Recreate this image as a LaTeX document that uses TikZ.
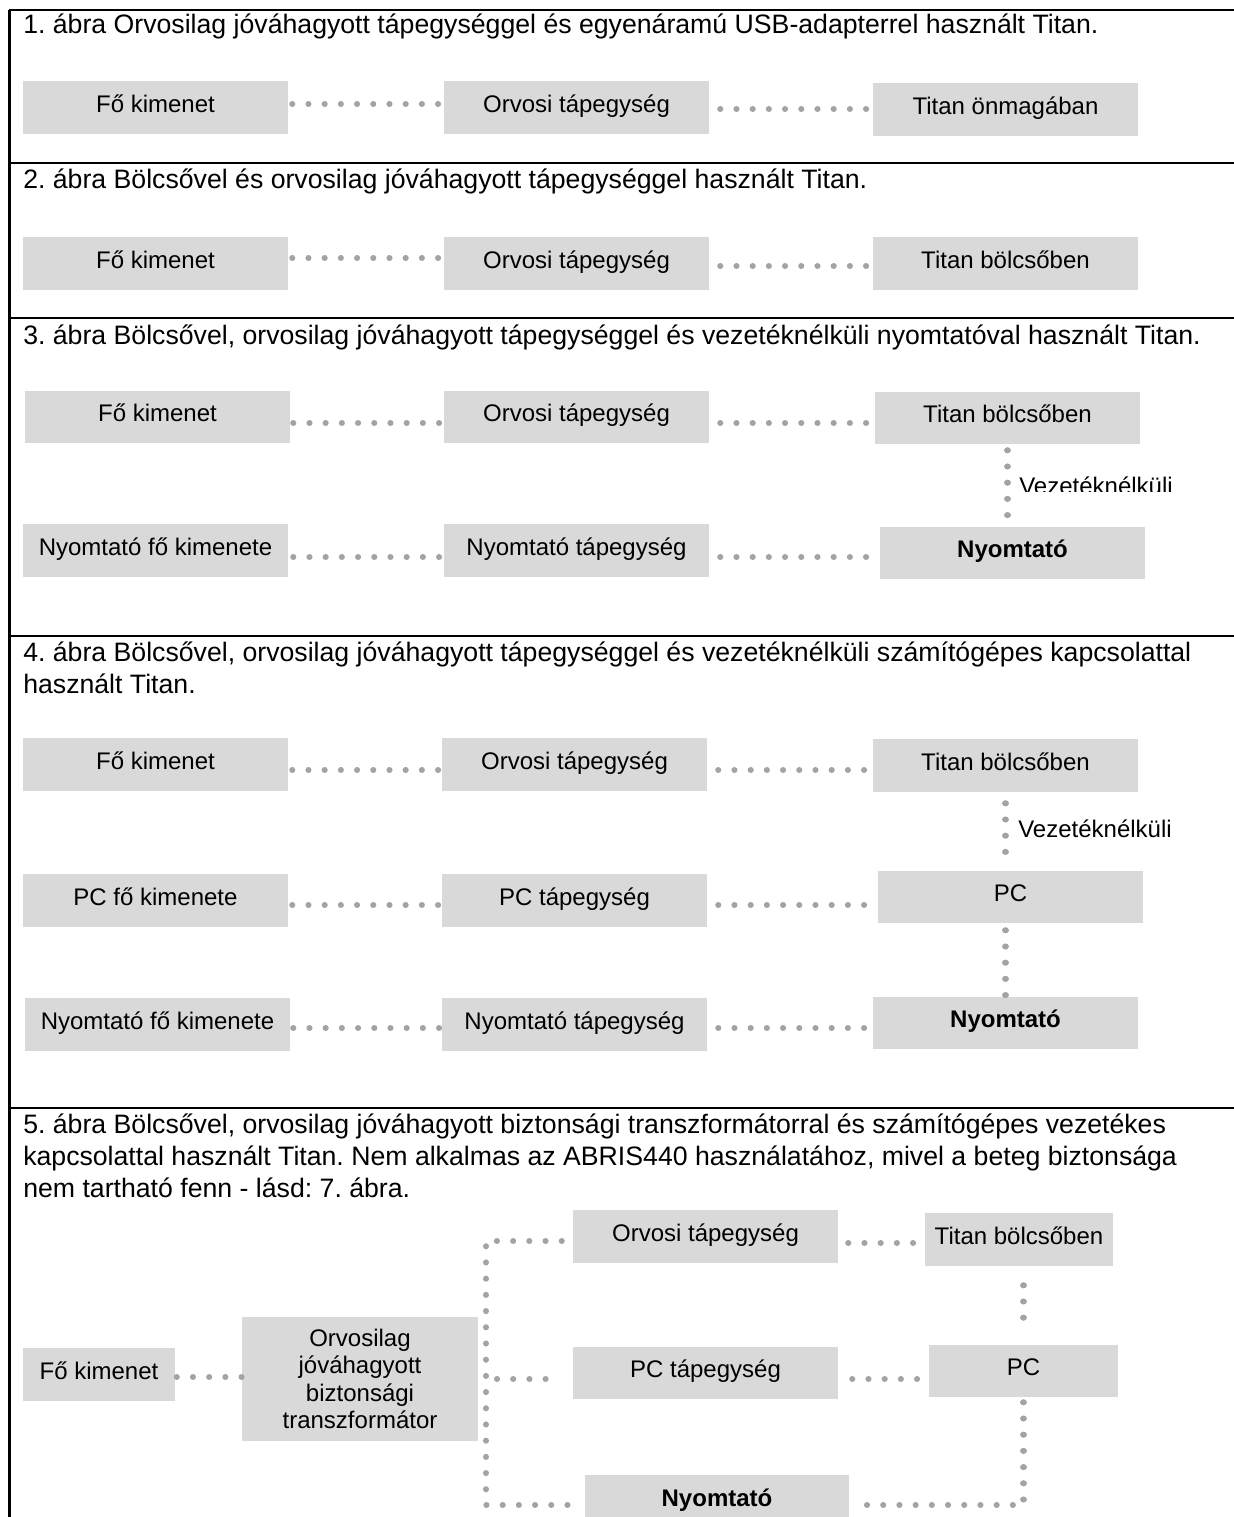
\documentclass[tikz,border=0pt]{standalone}
\usepackage{fontspec}
\setmainfont{Liberation Sans}
\usetikzlibrary{calc}
\frenchspacing
\definecolor{UnitColor}{HTML}{D9D9D9}
\definecolor{LinkColor}{HTML}{A3A3A3}
\newcommand{\PxUnit}{0.75pt}
\newcommand{\TextX}{23}
\newcommand{\BoxFont}{\fontsize{18}{20.6}\selectfont}
\newcommand{\HeadFont}{\fontsize{20}{24}\selectfont}
\newcommand{\PlaceUnit}[7]{%
  % #1 name, #2 left, #3 top, #4 right, #5 bottom, #6 extra style, #7 text
  \node[unit,#6,minimum width={(#4-#2)*\PxUnit},minimum height={(#5-#3)*\PxUnit}]
    (#1) at ({(#2+#4)/2},{(#3+#5)/2}) {#7};
}
\newcommand{\LinkUnits}[5]{%
  % #1 left node, #2 right node, #3 drop of the dots, #4 start gap, #5 end gap
  \draw[link,shorten <={#4*\PxUnit},shorten >={#5*\PxUnit}]
    ([yshift={-(#3)*\PxUnit}]#1.east) -- ([yshift={-(#3)*\PxUnit}]#1.east -| #2.west);
}

\begin{document}
\begin{tikzpicture}[
  x=\PxUnit, y=-\PxUnit,
  block/.style={fill=UnitColor,inner sep=0pt,font=\BoxFont},
  unit/.style={block,text height=13.5pt,text depth=6.75pt},
  strong/.style={font=\BoxFont\bfseries},
  heading/.style={anchor=base west,inner sep=0pt,font=\HeadFont},
  wireless/.style={anchor=base west,inner sep=0pt,font=\BoxFont},
  divider/.style={line width=1.8pt},
  link/.style={draw=LinkColor,line width=4.6pt,line cap=round,dash pattern=on 0.01pt off 12.14pt}
]
\path[use as bounding box,clip] (0,0) rectangle (1234,1517);

% Frame
\draw[divider] (9.5,10) -- (9.5,1517);
\foreach \y in {10,163,318,636,1108}{
  \draw[divider] (8.6,\y) -- (1234,\y);
}

% Headings
\node[heading] (head1) at (\TextX,33) {1. ábra Orvosilag jóváhagyott tápegységgel és egyenáramú USB-adapterrel használt Titan.};
\node[heading] (head2) at (\TextX,188) {2. ábra Bölcsővel és orvosilag jóváhagyott tápegységgel használt Titan.};
\node[heading] (head3) at (\TextX,344) {3. ábra Bölcsővel, orvosilag jóváhagyott tápegységgel és vezetéknélküli nyomtatóval használt Titan.};
\node[heading] (head4a) at (\TextX,661) {4. ábra Bölcsővel, orvosilag jóváhagyott tápegységgel és vezetéknélküli számítógépes kapcsolattal};
\node[heading] (head4b) at (\TextX,693) {használt Titan.};
\node[heading] (head5a) at (\TextX,1133) {5. ábra Bölcsővel, orvosilag jóváhagyott biztonsági transzformátorral és számítógépes vezetékes};
\node[heading] (head5b) at (\TextX,1165) {kapcsolattal használt Titan. Nem alkalmas az ABRIS440 használatához, mivel a beteg biztonsága};
\node[heading] (head5c) at (\TextX,1197) {nem tartható fenn - lásd: 7. ábra.};

% Row 1
\PlaceUnit{main1}{23}{81}{288}{134}{}{Fő kimenet}
\PlaceUnit{psu1}{444}{81}{709}{134}{}{Orvosi tápegység}
\PlaceUnit{titan1}{873}{83}{1138}{136}{}{Titan önmagában}
\LinkUnits{main1}{psu1}{-3.5}{4}{4}
\LinkUnits{psu1}{titan1}{1.5}{11}{6.5}

% Row 2
\PlaceUnit{main2}{23}{237}{288}{290}{}{Fő kimenet}
\PlaceUnit{psu2}{444}{237}{709}{290}{}{Orvosi tápegység}
\PlaceUnit{titan2}{873}{237}{1138}{290}{}{Titan bölcsőben}
\LinkUnits{main2}{psu2}{-5.5}{4}{4}
\LinkUnits{psu2}{titan2}{2.5}{11}{6.5}

% Row 3
\PlaceUnit{main3}{25}{391}{290}{443}{}{Fő kimenet}
\PlaceUnit{psu3}{444}{391}{709}{443}{}{Orvosi tápegység}
\PlaceUnit{titan3}{875}{392}{1140}{444}{}{Titan bölcsőben}
\PlaceUnit{pmain3}{23}{524}{288}{577}{}{Nyomtató fő kimenete}
\PlaceUnit{ppsu3}{444}{524}{709}{577}{}{Nyomtató tápegység}
\PlaceUnit{printer3}{880}{527}{1145}{579}{strong}{Nyomtató}
\LinkUnits{main3}{psu3}{6}{3}{4}
\LinkUnits{psu3}{titan3}{6}{11}{8.5}
\LinkUnits{pmain3}{ppsu3}{6.5}{5}{4}
\LinkUnits{ppsu3}{printer3}{6.5}{11}{13.5}
\draw[link,shorten <={6*\PxUnit},shorten >={11*\PxUnit}]
  (titan3.south) -- (titan3.south |- printer3.north);
\begin{scope}
  \clip (1010,470) rectangle (1234,491);
  \node[wireless] (air3) at (1019,494) {Vezetéknélküli};
\end{scope}

% Row 4
\PlaceUnit{main4}{23}{738}{288}{791}{}{Fő kimenet}
\PlaceUnit{psu4}{442}{738}{707}{791}{}{Orvosi tápegység}
\PlaceUnit{titan4}{873}{739}{1138}{792}{}{Titan bölcsőben}
\PlaceUnit{pcmain4}{23}{874}{288}{927}{}{PC fő kimenete}
\PlaceUnit{pcpsu4}{442}{874}{707}{927}{}{PC tápegység}
\PlaceUnit{pc4}{878}{871}{1143}{923}{}{PC}
\PlaceUnit{pmain4}{25}{998}{290}{1051}{}{Nyomtató fő kimenete}
\PlaceUnit{ppsu4}{442}{998}{707}{1051}{}{Nyomtató tápegység}
\PlaceUnit{printer4}{873}{997}{1138}{1049}{strong}{Nyomtató}
\LinkUnits{main4}{psu4}{5.5}{4}{3.5}
\LinkUnits{psu4}{titan4}{5.5}{11}{8.5}
\LinkUnits{pcmain4}{pcpsu4}{4.5}{4}{3.5}
\LinkUnits{pcpsu4}{pc4}{4.5}{11}{13.5}
\LinkUnits{pmain4}{ppsu4}{3.5}{3}{2.5}
\LinkUnits{ppsu4}{printer4}{3.5}{11}{8.5}
\draw[link,shorten <={11*\PxUnit},shorten >={3*\PxUnit}]
  (titan4.south) -- (titan4.south |- pc4.north);
\draw[link,shorten <={7*\PxUnit},shorten >={1*\PxUnit}]
  (pc4.south -| titan4.south) -- (printer4.north -| titan4.south);
\node[wireless] (air4) at (1018,837) {Vezetéknélküli};

% Row 5
\PlaceUnit{main5}{23}{1348}{175}{1401}{}{Fő kimenet}
\node[block,align=center,minimum width={236*\PxUnit},minimum height={124*\PxUnit}]
  (trafo5) at (360,1379) {Orvosilag\\jóváhagyott\\biztonsági\\transzformátor};
\PlaceUnit{psu5}{573}{1210}{838}{1263}{}{Orvosi tápegység}
\PlaceUnit{titan5}{925}{1213}{1113}{1266}{}{Titan bölcsőben}
\PlaceUnit{pcpsu5}{573}{1347}{838}{1399}{}{PC tápegység}
\PlaceUnit{pc5}{929}{1345}{1118}{1397}{}{PC}
\PlaceUnit{printer5}{585}{1475}{849}{1528}{strong}{Nyomtató}
\LinkUnits{main5}{trafo5}{2.5}{1.5}{0}
\LinkUnits{psu5}{titan5}{6.5}{10}{10}
\LinkUnits{pcpsu5}{pc5}{6}{14}{11}
\coordinate (bustop) at (486,1241);
\coordinate (busmid) at (486,1379);
\coordinate (busbot) at (486,1505);
\draw[link,shorten <={11*\PxUnit},shorten >={7*\PxUnit}]
  (psu5.west |- bustop) -- (bustop) -- (busbot) -- (printer5.west |- busbot);
\draw[link,shorten <={11*\PxUnit},shorten >={11*\PxUnit}]
  (busmid) -- (pcpsu5.west |- busmid);
\draw[link,shorten <={19*\PxUnit},shorten >={11*\PxUnit}]
  (titan5.south -| pc5.north) -- (pc5.north);
\draw[link,shorten <={5*\PxUnit},shorten >={3*\PxUnit}]
  (pc5.south) -- (pc5.south |- busbot) -- (printer5.east |- busbot);

\end{tikzpicture}
\end{document}
